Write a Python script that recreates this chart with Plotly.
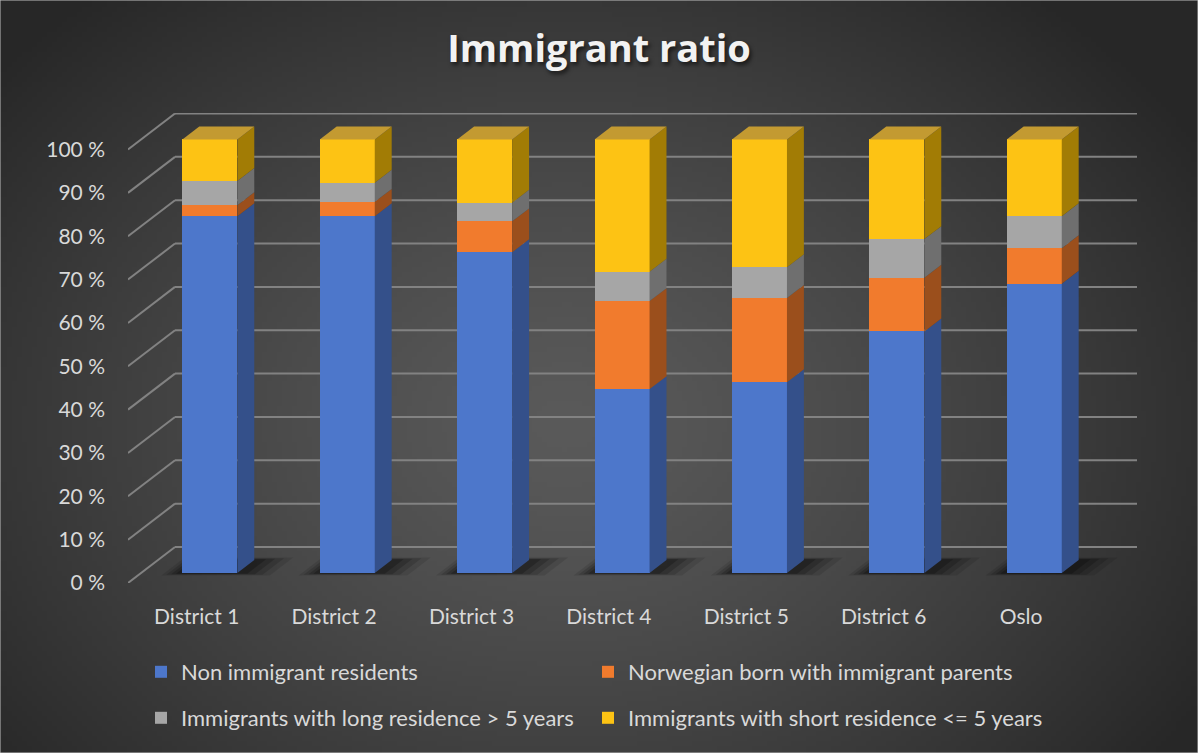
import base64
import struct
import zlib

import numpy as np
import plotly.graph_objects as go

# ---------------- data ----------------
categories = ["District 1", "District 2", "District 3", "District 4",
              "District 5", "District 6", "Oslo"]
non_immigrant = [82.3, 82.3, 74.0, 42.4, 44.0, 55.7, 66.7]
norwegian_born = [2.5, 3.3, 7.1, 20.3, 19.4, 12.4, 8.2]
long_residence = [5.6, 4.4, 4.3, 6.8, 7.1, 8.9, 7.4]
short_residence = [9.6, 10.0, 14.6, 30.5, 29.5, 23.0, 17.7]
series_names = ["Non immigrant residents",
                "Norwegian born with immigrant parents",
                "Immigrants with long residence > 5 years",
                "Immigrants with short residence <= 5 years"]
y_ticks = [0, 10, 20, 30, 40, 50, 60, 70, 80, 90, 100]
y_tick_labels = [f"{v} %" for v in y_ticks]

# ---------------- styling / geometry ----------------
W, H = 1198, 753
ML, MR, MT, MB = 128, 61, 113, 170
PW, PH = W - ML - MR, H - MT - MB
PX_CAT = 137.4          # pixels per category
PX_PCT = 4.335          # pixels per percent
X0 = -0.5
X1 = X0 + PW / PX_CAT
Y1 = PH / PX_PCT
DDX = 47 / PX_CAT       # full floor depth, in data units
DDY = 36 / PX_PCT
D_FRONT, D_BACK = 0.28, 0.64   # depth of bar front / back faces
BAR_W = 55 / PX_CAT

front_cols = ["#4d77cb", "#f17b2d", "#a6a6a6", "#fdc314"]
side_cols = ["#34508a", "#9b4f1c", "#6f6f6f", "#a27c05"]
top_col = "#c39a31"
grid_col = "#828282"
text_col = "#d9d9d9"
FONT = "Lato"

# legend placement (pixel left edge of each legend box, pixel row centre)
legend_left_px = [141, 588, 141, 588]
legend_row_px = [672, 672, 718, 718]

series = [non_immigrant, norwegian_born, long_residence, short_residence]

fig = go.Figure()

# background radial gradient image
bw, bh = 240, 151
yy, xx = np.mgrid[0:bh, 0:bw]
cx, cy = 0.47 * bw, 0.56 * bh
t = np.sqrt(((xx - cx) / (0.62 * bw)) ** 2 + ((yy - cy) / (0.75 * bh)) ** 2)
t = np.clip(t, 0, 1) ** 1.3
val = (0x5a - (0x5a - 0x27) * t).astype(np.uint8)
rgb = np.stack([val, val, val], axis=-1)
raw = b"".join(b"\x00" + rgb[r].tobytes() for r in range(bh))


def chunk(tag, data):
    c = struct.pack(">I", len(data)) + tag + data
    return c + struct.pack(">I", zlib.crc32(tag + data) & 0xffffffff)


png = (b"\x89PNG\r\n\x1a\n" + chunk(b"IHDR", struct.pack(">IIBBBBB", bw, bh, 8, 2, 0, 0, 0))
       + chunk(b"IDAT", zlib.compress(raw, 9)) + chunk(b"IEND", b""))
bg_src = "data:image/png;base64," + base64.b64encode(png).decode()

shapes = []

# back wall gridlines + diagonal side-wall lines
for v in y_ticks:
    shapes.append(dict(type="line", xref="x", yref="y", layer="below",
                       x0=X0, y0=v, x1=X0 + DDX, y1=v + DDY,
                       line=dict(color=grid_col, width=2)))
    shapes.append(dict(type="line", xref="x", yref="y", layer="below",
                       x0=X0 + DDX, y0=v + DDY, x1=X1, y1=v + DDY,
                       line=dict(color=grid_col, width=2)))

# soft floor shadows around each bar foot
for i in range(len(categories)):
    for ex_l, ex_r, ex_d, op in [(0.13, 0.26, 0.07, 0.10),
                                 (0.10, 0.20, 0.05, 0.14),
                                 (0.07, 0.14, 0.035, 0.18),
                                 (0.04, 0.08, 0.02, 0.22)]:
        xl = i - BAR_W / 2 - ex_l
        xr = i + BAR_W / 2 + ex_r
        d0, d1 = D_FRONT - ex_d, D_BACK + ex_d
        pts = [(xl + d0 * DDX, d0 * DDY), (xr + d0 * DDX, d0 * DDY),
               (xr + d1 * DDX, d1 * DDY), (xl + d1 * DDX, d1 * DDY)]
        path = "M " + " L ".join(f"{px:.4f},{py:.4f}" for px, py in pts) + " Z"
        shapes.append(dict(type="path", xref="x", yref="y", layer="below", path=path,
                           fillcolor=f"rgba(0,0,0,{op})", line=dict(width=0)))

# bars (front faces) + side and top faces
fx = D_FRONT * DDX
fy = D_FRONT * DDY
sx = (D_BACK - D_FRONT) * DDX
sy = (D_BACK - D_FRONT) * DDY
xs = [i + fx for i in range(len(categories))]
cum = [0.0] * len(categories)
legend_ids = ["legend", "legend2", "legend3", "legend4"]
for s, (vals, name) in enumerate(zip(series, series_names)):
    base = [c + fy for c in cum]
    fig.add_trace(go.Bar(
        x=xs, y=vals, base=base, width=BAR_W, name=name, showlegend=True,
        marker=dict(color=front_cols[s], line=dict(width=0)),
        legend=legend_ids[s],
        hovertext=categories, hoverinfo="text+y+name"))
    for i, v in enumerate(vals):
        b = cum[i] + fy
        tp = b + v
        xr = xs[i] + BAR_W / 2
        path = (f"M {xr:.4f},{b:.4f} L {xr + sx:.4f},{b + sy:.4f} "
                f"L {xr + sx:.4f},{tp + sy:.4f} L {xr:.4f},{tp:.4f} Z")
        shapes.append(dict(type="path", xref="x", yref="y", layer="above", path=path,
                           fillcolor=side_cols[s], line=dict(width=0)))
        cum[i] += v

for i in range(len(categories)):
    T = cum[i] + fy
    xl = xs[i] - BAR_W / 2
    xr = xs[i] + BAR_W / 2
    path = (f"M {xl:.4f},{T:.4f} L {xr:.4f},{T:.4f} L {xr + sx:.4f},{T + sy:.4f} "
            f"L {xl + sx:.4f},{T + sy:.4f} Z")
    shapes.append(dict(type="path", xref="x", yref="y", layer="above", path=path,
                       fillcolor=top_col, line=dict(width=0)))

# thin outer border
shapes.append(dict(type="rect", xref="paper", yref="paper",
                   x0=-ML / PW, x1=1 + MR / PW, y0=-MB / PH, y1=1 + MT / PH,
                   line=dict(color="#bfbfbf", width=1), layer="above"))

legends = {}
for k, lid in enumerate(legend_ids):
    legends[lid] = dict(orientation="h", x=(legend_left_px[k] - ML) / PW, xanchor="left",
                        y=(PH + MT - legend_row_px[k]) / PH, yanchor="middle",
                        font=dict(size=22, color=text_col, family=FONT), visible=True,
                        bgcolor="rgba(0,0,0,0)", itemclick=False, itemdoubleclick=False)

fig.update_layout(
    width=W, height=H, autosize=False, showlegend=True,
    margin=dict(l=ML, r=MR, t=MT, b=MB, pad=0),
    paper_bgcolor="#3a3a3a", plot_bgcolor="rgba(0,0,0,0)",
    barmode="overlay", bargap=0,
    font=dict(family=FONT, color=text_col, size=21),
    title=dict(text="Immigrant ratio", x=0.5, xref="container", xanchor="center",
               y=1 - 49 / H, yref="container", yanchor="middle",
               font=dict(family="Open Sans", size=38, color="#f2f2f2", weight=700,
                         shadow="2px 3px 4px rgba(0,0,0,0.6)")),
    xaxis=dict(range=[X0, X1], tickvals=list(range(len(categories))), ticktext=categories,
               showgrid=False, zeroline=False, showline=False, ticks="",
               ticklabelstandoff=19, tickfont=dict(size=21, color=text_col, family=FONT),
               fixedrange=True),
    yaxis=dict(range=[0, Y1], tickvals=y_ticks, ticktext=y_tick_labels,
               showgrid=False, zeroline=False, showline=False, ticks="",
               ticklabelstandoff=22, tickfont=dict(size=21, color=text_col, family=FONT),
               fixedrange=True),
    shapes=shapes,
    images=[dict(source=bg_src, xref="paper", yref="paper",
                 x=-ML / PW, y=1 + MT / PH, sizex=W / PW, sizey=H / PH,
                 xanchor="left", yanchor="top", sizing="stretch", layer="below")],
    **legends,
)

fig.write_html("out.html")
